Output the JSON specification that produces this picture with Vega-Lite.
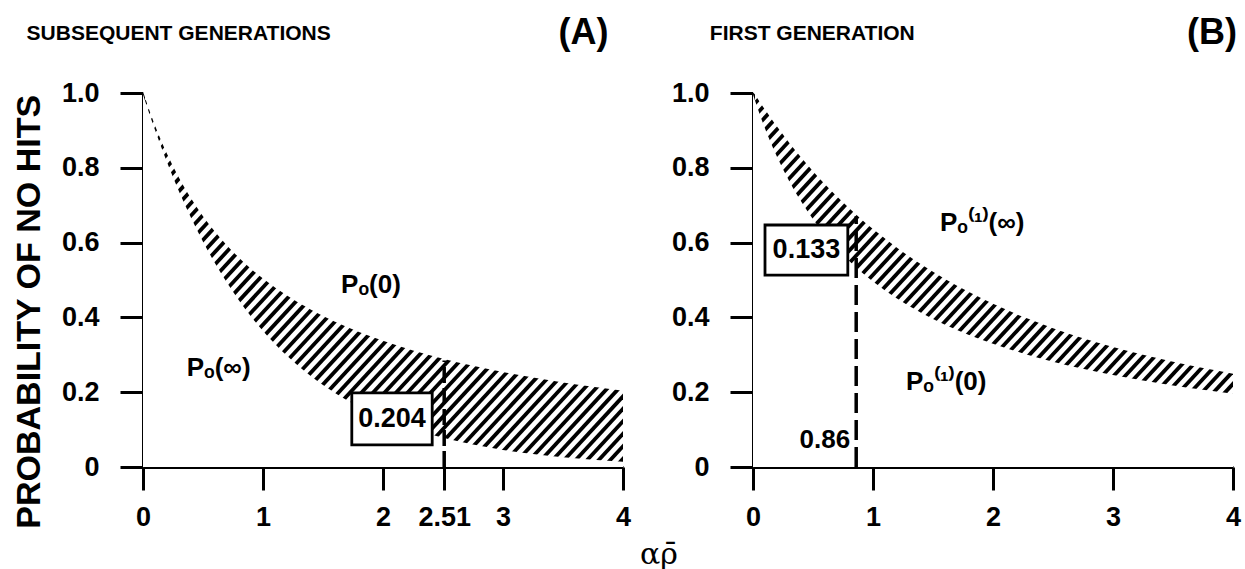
{
  "$schema": "https://vega.github.io/schema/vega-lite/v6.json",
  "background": "white",
  "bounds": "flush",
  "spacing": 130,
  "padding": {"left": 13, "top": 15, "right": 5, "bottom": 5},
  "config": {
    "view": {"stroke": null},
    "axis": {
      "domainColor": "black", "domainWidth": 3, "tickColor": "black", "tickWidth": 3, "tickSize": 23,
      "labelColor": "black", "labelFont": "Liberation Sans", "labelFontWeight": "bold", "labelFontSize": 27,
      "grid": false, "zindex": 1, "labelFlush": false, "labelOverlap": false, "labelBound": false
    },
    "axisX": {"labelPadding": 14},
    "axisY": {"labelPadding": 21},
    "text": {"font": "Liberation Sans", "fontWeight": "bold", "color": "black"}
  },
  "datasets": {
    "hatch": [
      {"x0": -2.880, "x1": 0.000}, {"x0": -2.784, "x1": 0.096}, {"x0": -2.688, "x1": 0.192}, {"x0": -2.592, "x1": 0.288},
      {"x0": -2.496, "x1": 0.384}, {"x0": -2.400, "x1": 0.480}, {"x0": -2.304, "x1": 0.576}, {"x0": -2.208, "x1": 0.672},
      {"x0": -2.112, "x1": 0.768}, {"x0": -2.016, "x1": 0.864}, {"x0": -1.920, "x1": 0.960}, {"x0": -1.824, "x1": 1.056},
      {"x0": -1.728, "x1": 1.152}, {"x0": -1.632, "x1": 1.248}, {"x0": -1.536, "x1": 1.344}, {"x0": -1.440, "x1": 1.440},
      {"x0": -1.344, "x1": 1.536}, {"x0": -1.248, "x1": 1.632}, {"x0": -1.152, "x1": 1.728}, {"x0": -1.056, "x1": 1.824},
      {"x0": -0.960, "x1": 1.920}, {"x0": -0.864, "x1": 2.016}, {"x0": -0.768, "x1": 2.112}, {"x0": -0.672, "x1": 2.208},
      {"x0": -0.576, "x1": 2.304}, {"x0": -0.480, "x1": 2.400}, {"x0": -0.384, "x1": 2.496}, {"x0": -0.288, "x1": 2.592},
      {"x0": -0.192, "x1": 2.688}, {"x0": -0.096, "x1": 2.784}, {"x0": 0.000, "x1": 2.880}, {"x0": 0.096, "x1": 2.976},
      {"x0": 0.192, "x1": 3.072}, {"x0": 0.288, "x1": 3.168}, {"x0": 0.384, "x1": 3.264}, {"x0": 0.480, "x1": 3.360},
      {"x0": 0.576, "x1": 3.456}, {"x0": 0.672, "x1": 3.552}, {"x0": 0.768, "x1": 3.648}, {"x0": 0.864, "x1": 3.744},
      {"x0": 0.960, "x1": 3.840}, {"x0": 1.056, "x1": 3.936}, {"x0": 1.152, "x1": 4.032}, {"x0": 1.248, "x1": 4.128},
      {"x0": 1.344, "x1": 4.224}, {"x0": 1.440, "x1": 4.320}, {"x0": 1.536, "x1": 4.416}, {"x0": 1.632, "x1": 4.512},
      {"x0": 1.728, "x1": 4.608}, {"x0": 1.824, "x1": 4.704}, {"x0": 1.920, "x1": 4.800}, {"x0": 2.016, "x1": 4.896},
      {"x0": 2.112, "x1": 4.992}, {"x0": 2.208, "x1": 5.088}, {"x0": 2.304, "x1": 5.184}, {"x0": 2.400, "x1": 5.280},
      {"x0": 2.496, "x1": 5.376}, {"x0": 2.592, "x1": 5.472}, {"x0": 2.688, "x1": 5.568}, {"x0": 2.784, "x1": 5.664},
      {"x0": 2.880, "x1": 5.760}, {"x0": 2.976, "x1": 5.856}, {"x0": 3.072, "x1": 5.952}, {"x0": 3.168, "x1": 6.048},
      {"x0": 3.264, "x1": 6.144}, {"x0": 3.360, "x1": 6.240}, {"x0": 3.456, "x1": 6.336}, {"x0": 3.552, "x1": 6.432},
      {"x0": 3.648, "x1": 6.528}, {"x0": 3.744, "x1": 6.624}, {"x0": 3.840, "x1": 6.720}, {"x0": 3.936, "x1": 6.816}
    ],
    "curveA": [
      {"x": 0, "u": 1, "l": 1}, {"x": 0.05, "u": 0.9524, "l": 0.9512}, {"x": 0.1, "u": 0.9091, "l": 0.9048},
      {"x": 0.15, "u": 0.8696, "l": 0.8607}, {"x": 0.2, "u": 0.8333, "l": 0.8187}, {"x": 0.3, "u": 0.7692, "l": 0.7408},
      {"x": 0.4, "u": 0.7143, "l": 0.6703}, {"x": 0.5, "u": 0.6667, "l": 0.6065}, {"x": 0.6, "u": 0.625, "l": 0.5488},
      {"x": 0.7, "u": 0.5882, "l": 0.4966}, {"x": 0.8, "u": 0.5556, "l": 0.4493}, {"x": 0.9, "u": 0.5263, "l": 0.4066},
      {"x": 1.0, "u": 0.5, "l": 0.3679}, {"x": 1.2, "u": 0.4545, "l": 0.3012}, {"x": 1.4, "u": 0.4167, "l": 0.2466},
      {"x": 1.6, "u": 0.3846, "l": 0.2019}, {"x": 1.8, "u": 0.3571, "l": 0.1653}, {"x": 2.0, "u": 0.3333, "l": 0.1353},
      {"x": 2.25, "u": 0.3077, "l": 0.1054}, {"x": 2.5, "u": 0.2857, "l": 0.0821}, {"x": 2.75, "u": 0.2667, "l": 0.0639},
      {"x": 3.0, "u": 0.25, "l": 0.0498}, {"x": 3.25, "u": 0.2353, "l": 0.0388}, {"x": 3.5, "u": 0.2222, "l": 0.0302},
      {"x": 3.75, "u": 0.2105, "l": 0.0235}, {"x": 4.0, "u": 0.2, "l": 0.0183}
    ],
    "curveB": [
      {"x": 0, "u": 1, "l": 1}, {"x": 0.05, "u": 0.9754, "l": 0.9524}, {"x": 0.1, "u": 0.9516, "l": 0.9091},
      {"x": 0.15, "u": 0.9286, "l": 0.8696}, {"x": 0.2, "u": 0.9063, "l": 0.8333}, {"x": 0.3, "u": 0.8639, "l": 0.7692},
      {"x": 0.4, "u": 0.8242, "l": 0.7143}, {"x": 0.5, "u": 0.7869, "l": 0.6667}, {"x": 0.6, "u": 0.7520, "l": 0.625},
      {"x": 0.7, "u": 0.7192, "l": 0.5882}, {"x": 0.8, "u": 0.6883, "l": 0.5556}, {"x": 0.9, "u": 0.6594, "l": 0.5263},
      {"x": 1.0, "u": 0.6321, "l": 0.5}, {"x": 1.2, "u": 0.5823, "l": 0.4545}, {"x": 1.4, "u": 0.5381, "l": 0.4167},
      {"x": 1.6, "u": 0.4988, "l": 0.3846}, {"x": 1.8, "u": 0.4637, "l": 0.3571}, {"x": 2.0, "u": 0.4323, "l": 0.3333},
      {"x": 2.25, "u": 0.3976, "l": 0.3077}, {"x": 2.5, "u": 0.3672, "l": 0.2857}, {"x": 2.75, "u": 0.3404, "l": 0.2667},
      {"x": 3.0, "u": 0.3167, "l": 0.25}, {"x": 3.25, "u": 0.2958, "l": 0.2353}, {"x": 3.5, "u": 0.2771, "l": 0.2222},
      {"x": 3.75, "u": 0.2604, "l": 0.2105}, {"x": 4.0, "u": 0.2454, "l": 0.2}
    ]
  },
  "hconcat": [
    {
      "width": 480, "height": 374,
      "layer": [
        {
          "data": {"name": "hatch"},
          "mark": {"type": "rule", "clip": true, "strokeWidth": 3.8, "color": "black"},
          "encoding": {
            "x": {"field": "x0", "type": "quantitative", "scale": {"domain": [0, 4], "nice": false},
                  "axis": {"values": [0, 1, 2, 2.51, 3, 4], "labelExpr": "'' + datum.value", "title": null}},
            "x2": {"field": "x1"},
            "y": {"datum": 0, "type": "quantitative", "scale": {"domain": [0, 1], "nice": false},
                  "axis": {"values": [0, 0.2, 0.4, 0.6, 0.8, 1], "labelExpr": "datum.value == 0 ? '0' : format(datum.value, '.1f')", "title": null}},
            "y2": {"datum": 1}
          }
        },
        {
          "data": {"name": "curveA"},
          "mark": {"type": "area", "color": "white", "opacity": 1, "interpolate": "monotone", "yOffset": -1.5},
          "encoding": {"x": {"field": "x", "type": "quantitative"}, "y": {"field": "u", "type": "quantitative"}, "y2": {"datum": 1}}
        },
        {
          "data": {"name": "curveA"},
          "mark": {"type": "area", "color": "white", "opacity": 1, "interpolate": "monotone", "yOffset": 1.5},
          "encoding": {"x": {"field": "x", "type": "quantitative"}, "y": {"field": "l", "type": "quantitative"}, "y2": {"datum": 0}}
        },
        {
          "data": {"values": [{"x": 2.51, "y": 0, "y2": 0.2849}]},
          "mark": {"type": "rule", "strokeWidth": 3.5, "strokeDash": [16, 5], "color": "black"},
          "encoding": {"x": {"field": "x", "type": "quantitative"}, "y": {"field": "y", "type": "quantitative"}, "y2": {"field": "y2"}}
        },
        {
          "data": {"values": [{"x": 1.74, "x2": 2.41, "y": 0.059, "y2": 0.198}]},
          "mark": {"type": "rect", "fill": "white", "stroke": "black", "strokeWidth": 2.8},
          "encoding": {"x": {"field": "x", "type": "quantitative"}, "x2": {"field": "x2"}, "y": {"field": "y", "type": "quantitative"}, "y2": {"field": "y2"}}
        },
        {
          "data": {"values": [{"x": 2.075, "y": 0.128, "t": "0.204"}]},
          "mark": {"type": "text", "fontSize": 27, "align": "center", "baseline": "middle"},
          "encoding": {"x": {"field": "x", "type": "quantitative"}, "y": {"field": "y", "type": "quantitative"}, "text": {"field": "t"}}
        },
        {
          "data": {"values": [{"x": 1.9, "y": 0.487, "t": "Pₒ(0)"}, {"x": 0.63, "y": 0.265, "t": "Pₒ(∞)"}]},
          "mark": {"type": "text", "fontSize": 26, "align": "center", "baseline": "middle"},
          "encoding": {"x": {"field": "x", "type": "quantitative"}, "y": {"field": "y", "type": "quantitative"}, "text": {"field": "t"}}
        },
        {
          "data": {"values": [{"x": -0.97, "y": 1.158, "t": "SUBSEQUENT GENERATIONS"}]},
          "mark": {"type": "text", "fontSize": 21, "align": "left", "baseline": "middle"},
          "encoding": {"x": {"field": "x", "type": "quantitative"}, "y": {"field": "y", "type": "quantitative"}, "text": {"field": "t"}}
        },
        {
          "data": {"values": [{"x": 3.67, "y": 1.16, "t": "(A)"}]},
          "mark": {"type": "text", "fontSize": 36, "align": "center", "baseline": "middle"},
          "encoding": {"x": {"field": "x", "type": "quantitative"}, "y": {"field": "y", "type": "quantitative"}, "text": {"field": "t"}}
        },
        {
          "data": {"values": [{"x": -0.94, "y": 0.415, "t": "PROBABILITY OF NO HITS"}]},
          "mark": {"type": "text", "fontSize": 34, "angle": 270, "align": "center", "baseline": "middle"},
          "encoding": {"x": {"field": "x", "type": "quantitative"}, "y": {"field": "y", "type": "quantitative"}, "text": {"field": "t"}}
        },
        {
          "data": {"values": [{"x": 4.3, "y": -0.235, "t": "αρ̄"}]},
          "mark": {"type": "text", "fontSize": 30, "font": "DejaVu Serif", "fontWeight": "normal", "align": "center", "baseline": "middle"},
          "encoding": {"x": {"field": "x", "type": "quantitative"}, "y": {"field": "y", "type": "quantitative"}, "text": {"field": "t"}}
        }
      ]
    },
    {
      "width": 480, "height": 374,
      "layer": [
        {
          "data": {"name": "hatch"},
          "mark": {"type": "rule", "clip": true, "strokeWidth": 3.8, "color": "black"},
          "encoding": {
            "x": {"field": "x0", "type": "quantitative", "scale": {"domain": [0, 4], "nice": false},
                  "axis": {"values": [0, 1, 2, 3, 4], "labelExpr": "'' + datum.value", "title": null}},
            "x2": {"field": "x1"},
            "y": {"datum": 0, "type": "quantitative", "scale": {"domain": [0, 1], "nice": false},
                  "axis": {"values": [0, 0.2, 0.4, 0.6, 0.8, 1], "labelExpr": "datum.value == 0 ? '0' : format(datum.value, '.1f')", "title": null}},
            "y2": {"datum": 1}
          }
        },
        {
          "data": {"name": "curveB"},
          "mark": {"type": "area", "color": "white", "opacity": 1, "interpolate": "monotone", "yOffset": -1.5},
          "encoding": {"x": {"field": "x", "type": "quantitative"}, "y": {"field": "u", "type": "quantitative"}, "y2": {"datum": 1}}
        },
        {
          "data": {"name": "curveB"},
          "mark": {"type": "area", "color": "white", "opacity": 1, "interpolate": "monotone", "yOffset": 1.5},
          "encoding": {"x": {"field": "x", "type": "quantitative"}, "y": {"field": "l", "type": "quantitative"}, "y2": {"datum": 0}}
        },
        {
          "data": {"values": [{"x": 0.86, "y": 0, "y2": 0.6707}]},
          "mark": {"type": "rule", "strokeWidth": 3.5, "strokeDash": [20, 7], "color": "black"},
          "encoding": {"x": {"field": "x", "type": "quantitative"}, "y": {"field": "y", "type": "quantitative"}, "y2": {"field": "y2"}}
        },
        {
          "data": {"values": [{"x": 0.10, "x2": 0.79, "y": 0.513, "y2": 0.647}]},
          "mark": {"type": "rect", "fill": "white", "stroke": "black", "strokeWidth": 2.8},
          "encoding": {"x": {"field": "x", "type": "quantitative"}, "x2": {"field": "x2"}, "y": {"field": "y", "type": "quantitative"}, "y2": {"field": "y2"}}
        },
        {
          "data": {"values": [{"x": 0.445, "y": 0.58, "t": "0.133"}]},
          "mark": {"type": "text", "fontSize": 27, "align": "center", "baseline": "middle"},
          "encoding": {"x": {"field": "x", "type": "quantitative"}, "y": {"field": "y", "type": "quantitative"}, "text": {"field": "t"}}
        },
        {
          "data": {"values": [{"x": 1.91, "y": 0.652, "t": "Pₒ⁽¹⁾(∞)"}, {"x": 1.61, "y": 0.227, "t": "Pₒ⁽¹⁾(0)"}]},
          "mark": {"type": "text", "fontSize": 26, "align": "center", "baseline": "middle"},
          "encoding": {"x": {"field": "x", "type": "quantitative"}, "y": {"field": "y", "type": "quantitative"}, "text": {"field": "t"}}
        },
        {
          "data": {"values": [{"x": 0.81, "y": 0.072, "t": "0.86"}]},
          "mark": {"type": "text", "fontSize": 26, "align": "right", "baseline": "middle"},
          "encoding": {"x": {"field": "x", "type": "quantitative"}, "y": {"field": "y", "type": "quantitative"}, "text": {"field": "t"}}
        },
        {
          "data": {"values": [{"x": -0.36, "y": 1.158, "t": "FIRST GENERATION"}]},
          "mark": {"type": "text", "fontSize": 21, "align": "left", "baseline": "middle"},
          "encoding": {"x": {"field": "x", "type": "quantitative"}, "y": {"field": "y", "type": "quantitative"}, "text": {"field": "t"}}
        },
        {
          "data": {"values": [{"x": 3.825, "y": 1.16, "t": "(B)"}]},
          "mark": {"type": "text", "fontSize": 36, "align": "center", "baseline": "middle"},
          "encoding": {"x": {"field": "x", "type": "quantitative"}, "y": {"field": "y", "type": "quantitative"}, "text": {"field": "t"}}
        }
      ]
    }
  ]
}
